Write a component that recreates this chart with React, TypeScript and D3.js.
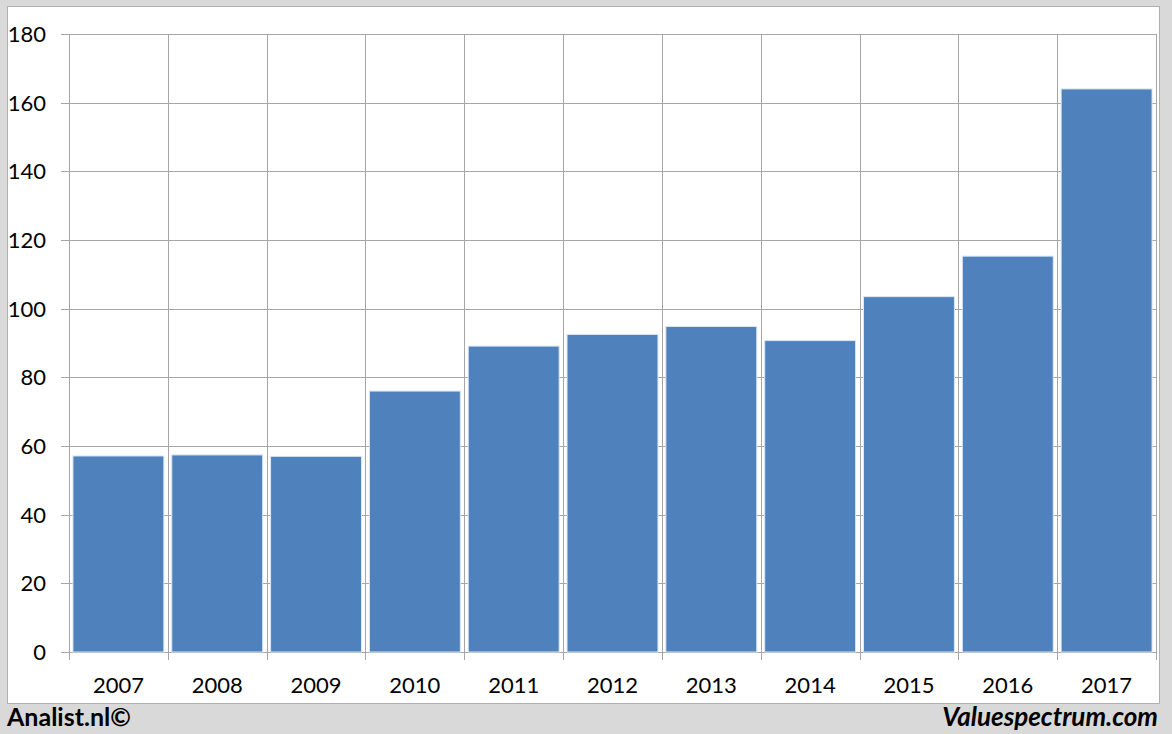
import React from "react";
import * as d3 from "d3";

const years = ["2007","2008","2009","2010","2011","2012","2013","2014","2015","2016","2017"];
const values = [57.1, 57.4, 57.0, 76.0, 89.1, 92.5, 94.8, 90.7, 103.5, 115.3, 164.0];
const yTicks = [0, 20, 40, 60, 80, 100, 120, 140, 160, 180];

const W = 1172, H = 734;
const left = 69, right = 1156, top = 34, bottom = 652;

export default function App() {
  const x = d3.scaleBand<string>().domain(years).range([left, right]).paddingInner(0.08).paddingOuter(0.04);
  const y = d3.scaleLinear().domain([0, 180]).range([bottom, top]);
  const step = (right - left) / years.length;
  const font = "Lato, 'Open Sans', sans-serif";
  return (
    <svg width={W} height={H} style={{ position: "absolute", left: 0, top: 0 }}>
      <rect x={0} y={0} width={W} height={H} fill="#d9d9d9" />
      <rect x={7.5} y={6.5} width={1152} height={697} fill="#ffffff" stroke="#b0b0b0" strokeWidth={1} />
      {yTicks.map(t => (
        <g key={t}>
          <line x1={61} x2={right} y1={Math.round(y(t)) + 0.5} y2={Math.round(y(t)) + 0.5} stroke="#a6a6a6" strokeWidth={1} />
          <text x={46} y={y(t) + 8} textAnchor="end" fontFamily={font} fontSize={22} fill="#000">{t}</text>
        </g>
      ))}
      {d3.range(years.length + 1).map(i => {
        const xx = Math.round(left + i * step) + 0.5;
        return <line key={i} x1={xx} x2={xx} y1={top} y2={bottom + 8} stroke="#a6a6a6" strokeWidth={1} />;
      })}
      {years.map((yr, i) => (
        <rect key={yr} x={x(yr)} y={y(values[i])} width={x.bandwidth()} height={bottom - y(values[i])}
          fill="#4f81bd" stroke="#dce6f2" strokeWidth={1} />
      ))}
      {years.map((yr, i) => (
        <text key={yr} x={left + (i + 0.5) * step} y={693} textAnchor="middle" fontFamily={font} fontSize={22} fill="#000">{yr}</text>
      ))}
      <text x={7} y={726} fontFamily={font} fontSize={25} fontWeight="bold" fill="#000">Analist.nl©</text>
      <text x={1158} y={726} textAnchor="end" fontFamily={font} fontSize={26} fontWeight="bold" fontStyle="italic" fill="#000">Valuespectrum.com</text>
    </svg>
  );
}
